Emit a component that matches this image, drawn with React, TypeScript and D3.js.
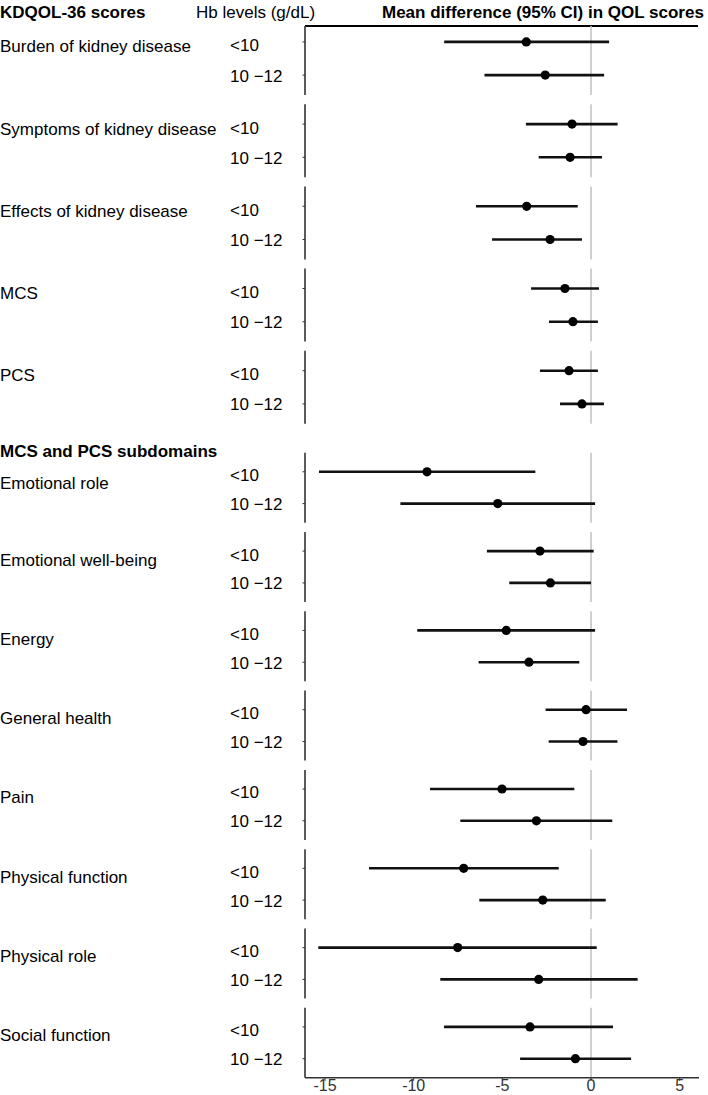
import React from "react";
import * as d3 from "d3";

// ---- data ----
const mainDomains = [
  "Burden of kidney disease",
  "Symptoms of kidney disease",
  "Effects of kidney disease",
  "MCS",
  "PCS",
];
const subDomains = [
  "Emotional role",
  "Emotional well-being",
  "Energy",
  "General health",
  "Pain",
  "Physical function",
  "Physical role",
  "Social function",
];
const hbLevels = ["<10", "10 \u221212"];

// estimates per domain: [<10, 10-12]
const estimate = [
  [-3.65, -2.58],
  [-1.07, -1.18],
  [-3.63, -2.31],
  [-1.47, -1.02],
  [-1.24, -0.51],
  [-9.25, -5.26],
  [-2.88, -2.29],
  [-4.78, -3.5],
  [-0.28, -0.45],
  [-5.02, -3.08],
  [-7.18, -2.72],
  [-7.52, -2.95],
  [-3.44, -0.88],
];
const lower = [
  [-8.28, -6.01],
  [-3.67, -2.95],
  [-6.49, -5.58],
  [-3.38, -2.37],
  [-2.88, -1.75],
  [-15.34, -10.75],
  [-5.87, -4.61],
  [-9.8, -6.34],
  [-2.56, -2.39],
  [-9.08, -7.37],
  [-12.52, -6.3],
  [-15.38, -8.5],
  [-8.29, -4.0],
];
const upper = [
  [1.02, 0.74],
  [1.5, 0.62],
  [-0.75, -0.51],
  [0.45, 0.39],
  [0.39, 0.73],
  [-3.14, 0.23],
  [0.15, 0.0],
  [0.23, -0.66],
  [2.03, 1.49],
  [-0.94, 1.2],
  [-1.82, 0.83],
  [0.32, 2.63],
  [1.24, 2.26],
];
const xTicks = [-15, -10, -5, 0, 5];

const FONT = "'Liberation Sans', Arial, Helvetica, sans-serif";

export default function App() {
  const W = 708;
  const H = 1095;
  const x = d3.scaleLinear().domain([-16.13, 6.09]).range([305, 699]);

  type Panel = { name: string; top: number; h: number; idx: number; sub: boolean };
  const panels: Panel[] = [];
  mainDomains.forEach((name, i) =>
    panels.push({ name, top: 22 + i * 82.2, h: 73, idx: i, sub: false })
  );
  subDomains.forEach((name, i) =>
    panels.push({
      name,
      top: 452.7 + i * 79.3,
      h: 70,
      idx: mainDomains.length + i,
      sub: true,
    })
  );

  const y0 = x(0);
  const last = panels[panels.length - 1];
  const axisY = last.top + last.h;

  return (
    <div style={{ position: "absolute", left: 0, top: 0 }}>
      <svg width={W} height={H} style={{ display: "block", background: "#fff" }}>
        {/* headers */}
        <text x={0} y={18} fontFamily={FONT} fontSize={17} fontWeight="bold" fill="#000">
          KDQOL-36 scores
        </text>
        <text x={196} y={18} fontFamily={FONT} fontSize={17} fill="#000">
          Hb levels (g/dL)
        </text>
        <text x={382} y={18} fontFamily={FONT} fontSize={17} fontWeight="bold" fill="#000">
          Mean difference (95% CI) in QOL scores
        </text>
        <line x1={305} x2={698} y1={26} y2={26} stroke="#000" strokeWidth={2} />
        <text x={0} y={457} fontFamily={FONT} fontSize={17} fontWeight="bold" fill="#000">
          MCS and PCS subdomains
        </text>

        {panels.map((p) => {
          const band = d3
            .scalePoint<string>()
            .domain(hbLevels)
            .range([p.top, p.top + p.h])
            .padding(0.6);
          const yTop = p.idx === 0 ? 26 : p.top;
          const r0 = band(hbLevels[0]) as number;
          const catOffset = p.sub ? (p.idx === mainDomains.length ? 13 : 10) : 6;
          return (
            <g key={p.name}>
              <line x1={y0} x2={y0} y1={yTop} y2={p.top + p.h} stroke="#c4c4c4" strokeWidth={1.6} />
              <line x1={305} x2={305} y1={yTop} y2={p.top + p.h} stroke="#333" strokeWidth={1.6} />
              <text
                x={0}
                y={r0 + catOffset}
                dominantBaseline="middle"
                fontFamily={FONT}
                fontSize={17}
                fill="#000"
              >
                {p.name}
              </text>
              {hbLevels.map((lv, j) => {
                const yy = band(lv) as number;
                return (
                  <g key={lv}>
                    <line x1={302.5} x2={305} y1={yy} y2={yy} stroke="#333" strokeWidth={1} />
                    <text
                      x={230}
                      y={yy + (j === 0 ? 5 : 2)}
                      dominantBaseline="middle"
                      fontFamily={FONT}
                      fontSize={17}
                      fill="#000"
                    >
                      {lv}
                    </text>
                    <line
                      x1={x(lower[p.idx][j])}
                      x2={x(upper[p.idx][j])}
                      y1={yy}
                      y2={yy}
                      stroke="#111"
                      strokeWidth={2.6}
                    />
                    <circle cx={x(estimate[p.idx][j])} cy={yy} r={4.6} fill="#000" />
                  </g>
                );
              })}
            </g>
          );
        })}

        {/* bottom axis */}
        <line x1={305} x2={699} y1={axisY} y2={axisY} stroke="#333" strokeWidth={1.6} />
        {xTicks.map((t) => (
          <g key={t}>
            <line x1={x(t)} x2={x(t)} y1={axisY} y2={axisY + 3} stroke="#333" strokeWidth={1} />
            <text
              x={x(t)}
              y={axisY + 13}
              textAnchor="middle"
              fontFamily={FONT}
              fontSize={16}
              fill="#333"
            >
              {t}
            </text>
          </g>
        ))}
      </svg>
    </div>
  );
}
